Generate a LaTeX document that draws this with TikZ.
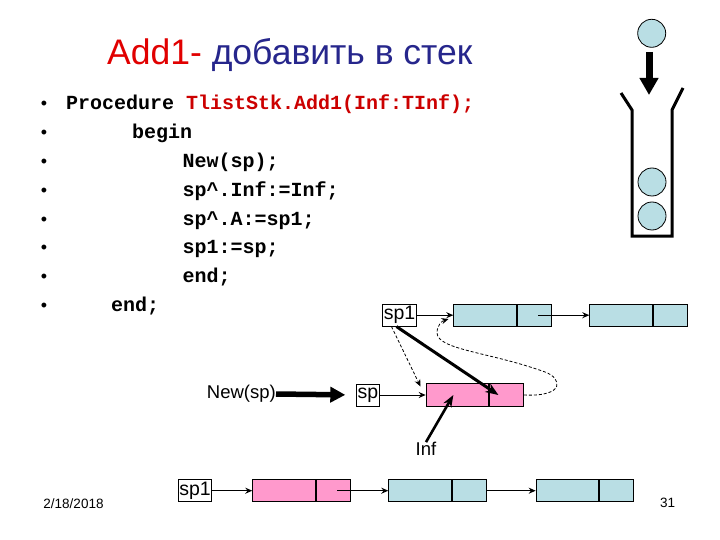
\documentclass[tikz,border=0pt]{standalone}
\usepackage{fontspec}
\setmainfont{Liberation Sans}
\newfontfamily\codefont{Liberation Mono}
\usetikzlibrary{arrows.meta,calc}
\definecolor{cellcyan}{RGB}{185,222,228}
\definecolor{cellpink}{RGB}{255,153,204}
\definecolor{titlered}{RGB}{225,0,0}
\definecolor{titleblue}{RGB}{38,38,140}
\definecolor{codered}{RGB}{204,0,0}
\tikzset{
  cella/.style={draw=black, line width=0.8pt, inner sep=0pt, minimum width=62.5pt, minimum height=22pt, anchor=west},
  cellb/.style={draw=black, line width=0.8pt, inner sep=0pt, minimum width=34pt, minimum height=22pt, anchor=west},
  ptrbox/.style={draw=black, line width=0.8pt, fill=white, inner sep=1pt, minimum height=22pt, font=\fontsize{19.5}{21}\selectfont},
  thin arrow/.style={line width=1.3pt, -{Stealth[length=7pt,width=6pt]}},
  dash arrow/.style={line width=0.8pt, dash pattern=on 3pt off 2pt, -{Stealth[length=7pt,width=6pt]}},
  thick arrow/.style={line width=3pt, -{Stealth[length=13pt,width=10pt]}},
  codeline/.style={anchor=base west, inner sep=0pt, font=\codefont\bfseries\fontsize{20}{22}\selectfont},
  bulletmark/.style={anchor=base, inner sep=0pt, font=\fontsize{18}{20}\selectfont},
  ball/.style={draw=black, line width=0.8pt, fill=cellcyan},
  label text/.style={inner sep=0pt, font=\fontsize{18.5}{20}\selectfont},
}
\begin{document}
\begin{tikzpicture}[x=1pt,y=-1pt]
\useasboundingbox (0,0) rectangle (720,540);
\fill[white] (0,0) rectangle (720,540);

% title
\node[anchor=base west, inner sep=0pt, font=\fontsize{35.5}{40}\selectfont] (title) at (107,65)
  {\textcolor{titlered}{Add1-} \textcolor{titleblue}{добавить в стек}};

% code
\foreach \y in {110,138.8,167.6,196.4,225.2,254,282.8,311.6}
  \node[bulletmark] at (44,\y) {•};
\node[codeline] (l1) at (66,110) {Procedure \textcolor{codered}{TlistStk.Add1(Inf:TInf);}};
\node[codeline] (l2) at (132,138.8) {begin};
\node[codeline] (l3) at (182.5,167.6) {New(sp);};
\node[codeline] (l4) at (182.5,196.4) {sp\^{}.Inf:=Inf;};
\node[codeline] (l5) at (182.5,225.2) {sp\^{}.A:=sp1;};
\node[codeline] (l6) at (182.5,254) {sp1:=sp;};
\node[codeline] (l7) at (182.5,282.8) {end;};
\node[codeline] (l8) at (111,311.6) {end;};

% stack picture
\draw[ball] (651.7,33.3) circle (14);
\draw[line width=7pt, -{Triangle[length=17pt,width=18pt]}] (649,52) -- (649,95);
\draw[line width=3pt, line join=miter] (621,93) -- (632,110) -- (632,236) -- (672,236) -- (672,110) -- (683,88);
\draw[ball] (652,182) circle (14);
\draw[ball] (652,216) circle (14);

% top list
\node[ptrbox] (sp1top) at (399.5,315.2) {sp1};
\node[cella, fill=cellcyan] (t1a) at (453.3,315.2) {};
\node[cellb, fill=cellcyan] (t1b) at (t1a.east) {};
\node[cella, fill=cellcyan] (t2a) at (589.3,315.2) {};
\node[cellb, fill=cellcyan] (t2b) at (t2a.east) {};
\draw[thin arrow] (sp1top.east) -- (t1a.west);
\draw[thin arrow] ([xshift=4pt]t1b.center) -- (t2a.west);

% middle: new element
\node[ptrbox] (spbox) at (368,395) {sp};
\node[cella, fill=cellpink, minimum height=23pt] (pa) at (425.7,395) {};
\node[cellb, fill=cellpink, minimum height=23pt] (pb) at (pa.east) {};
\draw[line width=1pt, -{Stealth[length=7pt,width=6pt]}] (spbox.east) -- (pa.west);
\node[label text, anchor=east] (newsp) at (276,394) {New(sp)};
\draw[line width=5.5pt, -{Triangle[length=15pt,width=15pt]}, shorten >=11pt] (newsp.east) -- (spbox.west);
\node[label text] (inf) at (426,449) {Inf};
\draw[line width=2.6pt, -{Stealth[length=12pt,width=9pt]}] (inf.north) -- ([xshift=-4pt]pa.center);

\draw[thick arrow] ([xshift=-3pt]sp1top.south) -- ([xshift=-8pt]pb.center);
\coordinate (dtip) at (420.5,386.5);
\draw[dash arrow] ([xshift=-8pt]sp1top.south) -- (dtip);
\coordinate (ctip) at (448.5,319);
\draw[dash arrow] (pb.east) .. controls (566,397) and (562,378) .. (545,372)
   .. controls (490,352) and (438,350) .. (437,333) .. controls (437,325) and (442,321) .. (ctip);

% bottom list
\node[ptrbox] (sp1bot) at (195,490.7) {sp1};
\node[cella, fill=cellpink] (b1a) at (252.3,490.7) {};
\node[cellb, fill=cellpink] (b1b) at (b1a.east) {};
\node[cella, fill=cellcyan] (b2a) at (388.3,490.7) {};
\node[cellb, fill=cellcyan] (b2b) at (b2a.east) {};
\node[cella, fill=cellcyan] (b3a) at (535.7,490.7) {};
\node[cellb, fill=cellcyan] (b3b) at (b3a.east) {};
\draw[thin arrow] (sp1bot.east) -- (b1a.west);
\draw[thin arrow] ([xshift=4pt]b1b.center) -- (b2a.west);
\draw[thin arrow] (b2b.east) -- (b3a.west);

% footer
\node[inner sep=0pt, font=\fontsize{13.5}{15}\selectfont] (date) at (73.5,504) {2/18/2018};
\node[inner sep=0pt, font=\fontsize{13.5}{15}\selectfont] (page) at (667.5,503) {31};
\end{tikzpicture}
\end{document}
